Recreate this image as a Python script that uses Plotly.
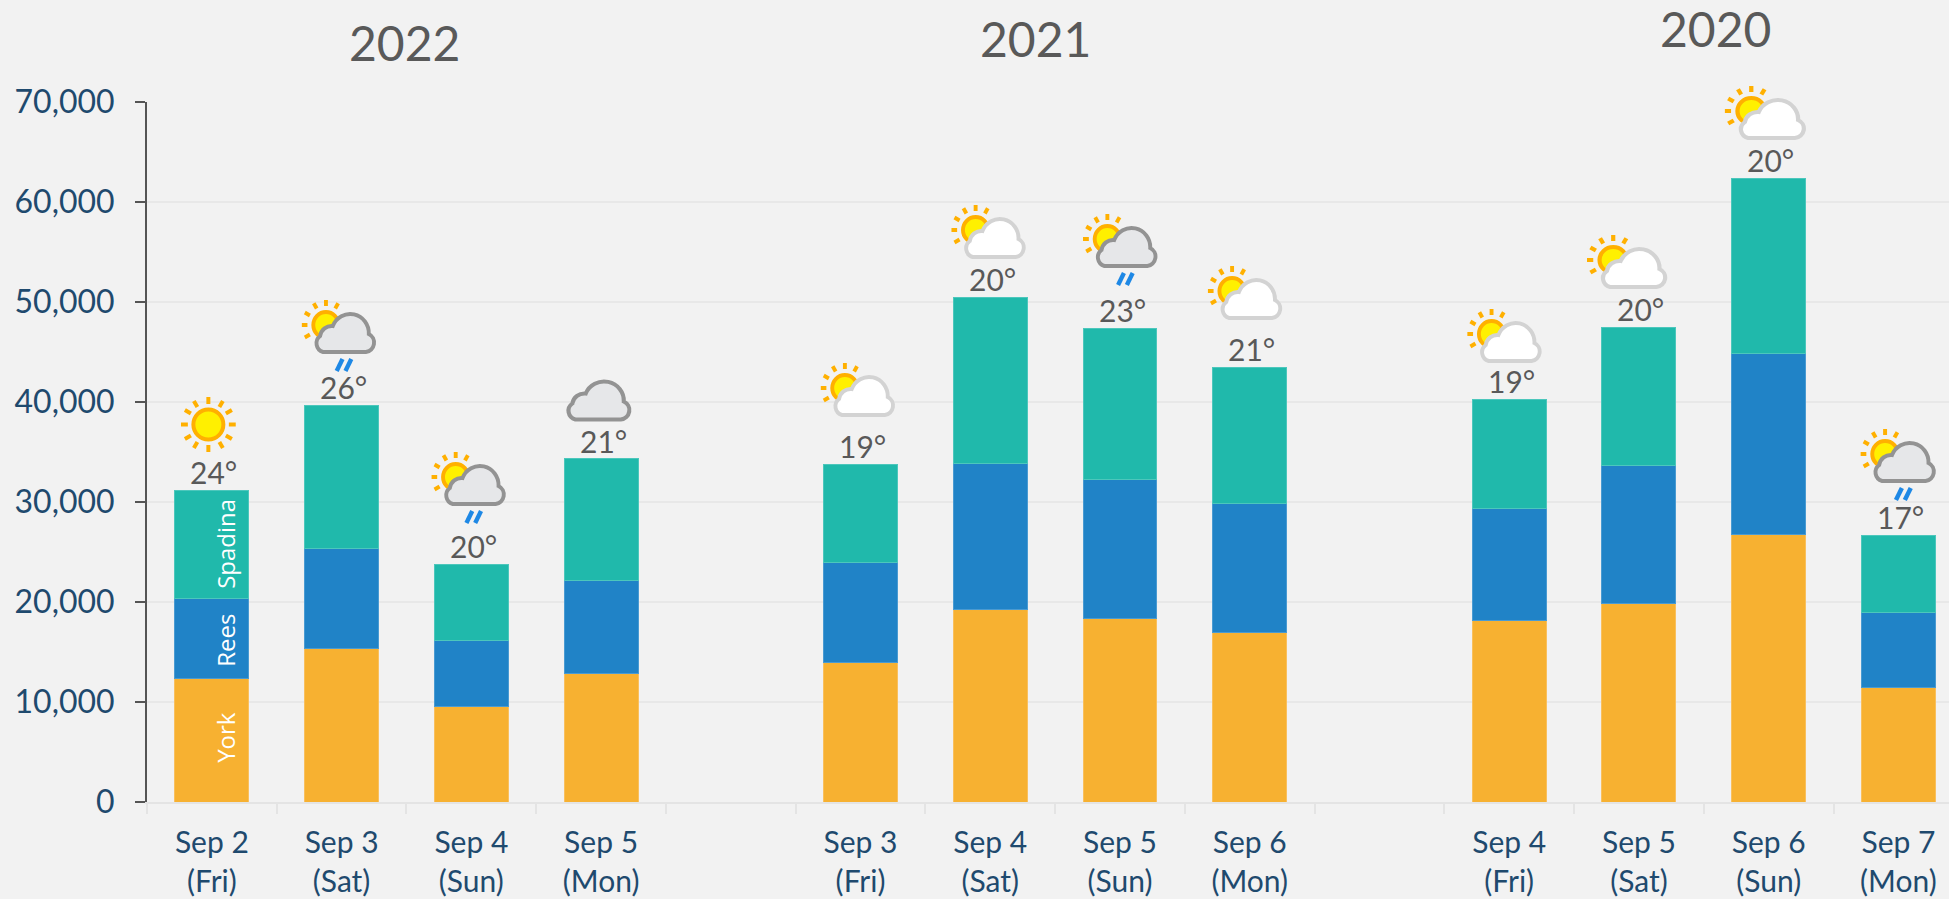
import base64
import plotly.graph_objects as go

categories = ["Sep 2<br>(Fri)", "Sep 3<br>(Sat)", "Sep 4<br>(Sun)", "Sep 5<br>(Mon)", " ",
              "Sep 3<br>(Fri)", "Sep 4<br>(Sat)", "Sep 5<br>(Sun)", "Sep 6<br>(Mon)", "  ",
              "Sep 4<br>(Fri)", "Sep 5<br>(Sat)", "Sep 6<br>(Sun)", "Sep 7<br>(Mon)"]
york = [12400, 15400, 9600, 12900, None, 13950, 19250, 18400, 17000, None, 18200, 19900, 26800, 11500]
rees = [8000, 10000, 6600, 9300, None, 10000, 14600, 13900, 12900, None, 11150, 13750, 18050, 7450]
spadina = [10800, 14300, 7600, 12150, None, 9850, 16650, 15100, 13600, None, 10950, 13850, 17550, 7750]
temps = ["24°", "26°", "20°", "21°", None, "19°", "20°", "23°", "21°", None, "19°", "20°", "20°", "17°"]
weather = ["sun", "rain", "rain", "cloud", None, "partly", "partly", "rain", "partly", None, "partly", "partly", "partly", "rain"]
y_ticks = [0, 10000, 20000, 30000, 40000, 50000, 60000, 70000]
years = ["2022", "2021", "2020"]

# icon placement relative to its bar (pixels)
icon_dx = [-31, -40, -40, -38, None, -40, -39, -37, -42, None, -42, -52, -44, -38]
icon_top = [93, 105, 112, 82, None, 101, 92, 114, 101, None, 90, 92, 92, 106]
icon_w = [55, 76, 76, 70, None, 76, 76, 76, 76, None, 76, 82, 83, 77]

W, H, L, T, B = 1949, 899, 147, 102, 97
PLOT_W = W - L
PLOT_H = H - T - B
X_MAX = 13.39
PX_PER_CAT = PLOT_W / (X_MAX + 0.5)
PX_PER_UNIT = PLOT_H / 70000
FONT = "Lato"
TICK = "#1f4a6e"
GREY = "#595959"

RAYS = "".join(
    f'<line x1="{x1}" y1="{y1}" x2="{x2}" y2="{y2}"/>'
    for x1, y1, x2, y2 in [(25, 0, 25, 6), (12.5, 3.3, 15.5, 8.5), (3.3, 12.5, 8.5, 15.5), (0, 25, 6, 25),
                           (3.3, 37.5, 8.5, 34.5), (37.5, 3.3, 34.5, 8.5)])
SUN_PART = (f'<g stroke="#ffb000" stroke-width="4">{RAYS}</g>'
            '<circle cx="25" cy="25" r="13" fill="#fff000" stroke="#ffb000" stroke-width="4"/>')
CLOUD = ('<path d="M22 52 H66 A9.5 9.5 0 0 0 69 34 A19.2 19.2 0 0 0 32 26 A12 12 0 0 0 19 36 '
         'A9 9 0 0 0 22 52 Z" fill="{f}" stroke="{s}" stroke-width="4"/>')
RAIN = ('<g stroke="#1e88e5" stroke-width="4.5"><line x1="42" y1="59" x2="36" y2="71"/>'
        '<line x1="51" y1="59" x2="45" y2="71"/></g>')


def full_sun():
    rays = "".join(
        f'<line x1="{x1}" y1="{y1}" x2="{x2}" y2="{y2}"/>'
        for x1, y1, x2, y2 in [(27.5, 0, 27.5, 7), (27.5, 48, 27.5, 55), (0, 27.5, 7, 27.5), (48, 27.5, 55, 27.5),
                               (13, 4, 16.5, 10), (42, 4, 38.5, 10), (13, 51, 16.5, 45), (42, 51, 38.5, 45),
                               (4, 13, 10, 16.5), (51, 13, 45, 16.5), (4, 42, 10, 38.5), (51, 42, 45, 38.5)])
    return (f'<g stroke="#ffb000" stroke-width="4">{rays}</g>'
            '<circle cx="27.5" cy="27.5" r="15" fill="#fff000" stroke="#ffb000" stroke-width="4"/>')


ICONS = {
    "sun": ("0 0 55 55", 55, full_sun()),
    "cloud": ("10 9 68 46", 46, CLOUD.format(f="#e6e7e9", s="#939393")),
    "partly": ("0 0 78 55", 55, SUN_PART + CLOUD.format(f="#ffffff", s="#d3d3d3")),
    "rain": ("0 0 78 72", 72, SUN_PART + CLOUD.format(f="#e6e7e9", s="#939393") + RAIN),
}


def icon_uri(kind):
    box, _, body = ICONS[kind]
    svg = (f'<svg xmlns="http://www.w3.org/2000/svg" viewBox="{box}" preserveAspectRatio="none">'
           f'<g fill="none" stroke-linecap="butt">{body}</g></svg>')
    return "data:image/svg+xml;base64," + base64.b64encode(svg.encode()).decode()


fig = go.Figure()
for name, vals, col, edge in [("York", york, "#f7b131", "#f9c05e"),
                              ("Rees", rees, "#2083c7", "#4a9bd2"),
                              ("Spadina", spadina, "#20b9ab", "#4cc7bc")]:
    fig.add_bar(x=categories, y=vals, name=name, width=0.57,
                marker=dict(color=col, line=dict(color=edge, width=1)), showlegend=False)

images, annotations = [], []
for i, kind in enumerate(weather):
    if kind is None:
        continue
    total = york[i] + rees[i] + spadina[i]
    annotations.append(dict(x=i, y=total, xref="x", yref="y", text=temps[i], showarrow=False,
                            yanchor="bottom", yshift=-2, xshift=2, font=dict(family=FONT, size=30, color=GREY)))
    # paper references, so an icon may rise above the top of the plot area
    left_px = (i + 0.5) * PX_PER_CAT + icon_dx[i]
    top_px = total * PX_PER_UNIT + icon_top[i]
    images.append(dict(source=icon_uri(kind), xref="paper", yref="paper", xanchor="left", yanchor="top",
                       x=left_px / PLOT_W, y=top_px / PLOT_H,
                       sizex=icon_w[i] / PLOT_W, sizey=ICONS[kind][1] / PLOT_H,
                       sizing="stretch", layer="above"))

for text, px, py in zip(years, [404, 1035, 1715], [43, 39, 29]):
    annotations.append(dict(x=(px - L) / PLOT_W, y=1 - (py - T) / PLOT_H, xref="paper", yref="paper", text=text,
                            xanchor="center", yanchor="middle",
                            showarrow=False, font=dict(family=FONT, size=48, color=GREY)))

for text, val in [("York", 6500), ("Rees", 16200), ("Spadina", 25800)]:
    annotations.append(dict(x=0, y=val, xref="x", yref="y", text=text, textangle=-90, showarrow=False, xshift=13,
                            font=dict(family="Open Sans", size=24, color="white")))

fig.update_layout(
    width=W, height=H, margin=dict(l=L, r=0, t=T, b=B, pad=0),
    paper_bgcolor="#f2f2f2", plot_bgcolor="#f2f2f2", barmode="stack",
    font=dict(family=FONT, size=30, color=TICK),
    images=images, annotations=annotations,
    xaxis=dict(type="category", categoryorder="array", categoryarray=categories, range=[-0.5, X_MAX],
               tickmode="array", tickvals=categories, ticktext=categories, tickson="boundaries",
               ticks="outside", ticklen=10, tickwidth=2, tickcolor="#e4e4e4",
               showline=True, linecolor="#e4e4e4", linewidth=2, showgrid=False, ticklabelstandoff=13,
               tickfont=dict(family=FONT, size=30, color=TICK), tickangle=0),
    yaxis=dict(range=[0, 70000], tickvals=y_ticks, tickformat=",", ticks="outside", ticklen=10, tickwidth=2,
               tickcolor="#555555", showline=True, linecolor="#555555", linewidth=2, ticklabelstandoff=14,
               gridcolor="#e8e8e8", gridwidth=2, zeroline=False,
               tickfont=dict(family=FONT, size=32, color=TICK)),
)

fig.write_html("out.html", config={"displayModeBar": False},
               post_script="document.body.style.margin='0';document.body.style.overflow='hidden';")
